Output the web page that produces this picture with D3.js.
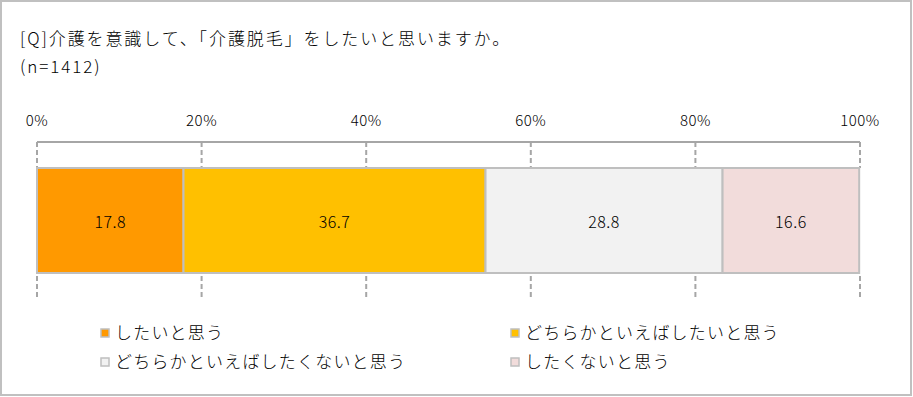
<!DOCTYPE html>
<html>
<head>
<meta charset="utf-8">
<script src="https://cdn.jsdelivr.net/npm/d3@7"></script>
<style>
  body { margin: 0; background: #fff; }
  svg { display: block; font-family: "Noto Sans CJK JP", sans-serif; }
</style>
</head>
<body>
<svg id="chart"></svg>
<script>
const categories = ['したいと思う', 'どちらかといえばしたいと思う', 'どちらかといえばしたくないと思う', 'したくないと思う']
const values = [17.8, 36.7, 28.8, 16.6]
const colors = ['#FF9900', '#FFC000', '#F2F2F2', '#F2DCDB']
const ticks = [0, 20, 40, 60, 80, 100]
const titleLines = ['[Q]介護を意識して、「介護脱毛」をしたいと思いますか。', '(n=1412)']

let width = 913
let height = 397
let svg = d3.select('#chart')
  .attr('width', width)
  .attr('height', height)

// outer frame
svg.append('rect')
  .attr('x', 1).attr('y', 1)
  .attr('width', width - 3).attr('height', height - 3)
  .attr('fill', '#fff')
  .attr('stroke', '#c0c0c0')
  .attr('stroke-width', 2)

svg.selectAll('.title')
  .data(titleLines)
  .enter()
  .append('text')
  .attr('class', 'title')
  .attr('x', 20)
  .attr('y', (d, i) => 45 + i * 28)
  .attr('font-size', 17)
  .attr('font-weight', 300)
  .attr('letter-spacing', 1.9)
  .attr('fill', '#000')
  .text(d => d)

let x = d3.scaleLinear().domain([0, 100]).range([37, 860])
let barTop = 168
let barBottom = 273

// top solid line + dashed grid
svg.append('line')
  .attr('x1', x(0)).attr('x2', x(100))
  .attr('y1', 142).attr('y2', 142)
  .attr('stroke', '#a6a6a6').attr('stroke-width', 2)

svg.selectAll('.grid-top')
  .data(ticks)
  .enter()
  .append('line')
  .attr('x1', d => x(d)).attr('x2', d => x(d))
  .attr('y1', 142).attr('y2', barTop)
  .attr('stroke', '#a6a6a6').attr('stroke-width', 2)
  .attr('stroke-dasharray', '5,3')

svg.selectAll('.grid-bottom')
  .data(ticks)
  .enter()
  .append('line')
  .attr('x1', d => x(d)).attr('x2', d => x(d))
  .attr('y1', 276).attr('y2', 300)
  .attr('stroke', '#a6a6a6').attr('stroke-width', 2)
  .attr('stroke-dasharray', '5,3')

svg.selectAll('.tick-label')
  .data(ticks)
  .enter()
  .append('text')
  .attr('x', d => x(d))
  .attr('y', 126)
  .attr('text-anchor', 'middle')
  .attr('font-size', 15)
  .attr('font-weight', 300)
  .attr('letter-spacing', 0.5)
  .attr('fill', '#000')
  .text(d => d + '%')

let stacked = values.map((v, i) => ({
  name: categories[i],
  value: v,
  start: d3.sum(values.slice(0, i)),
  color: colors[i]
}))

svg.selectAll('.bar')
  .data(stacked)
  .enter()
  .append('rect')
  .attr('x', d => x(d.start))
  .attr('y', barTop)
  .attr('width', d => x(d.start + d.value) - x(d.start))
  .attr('height', barBottom - barTop)
  .attr('fill', d => d.color)
  .attr('stroke', '#bfbfbf')
  .attr('stroke-width', 2)

svg.selectAll('.bar-label')
  .data(stacked)
  .enter()
  .append('text')
  .attr('x', d => x(d.start + d.value / 2))
  .attr('y', (barTop + barBottom) / 2 + 7)
  .attr('text-anchor', 'middle')
  .attr('font-size', 16)
  .attr('font-weight', 300)
  .attr('letter-spacing', 0.5)
  .attr('fill', '#000')
  .text(d => d.value.toFixed(1))

let legendPos = [[101, 333], [511, 333], [101, 362], [511, 362]]
let legend = svg.selectAll('.legend')
  .data(stacked)
  .enter()
  .append('g')
  .attr('transform', (d, i) => `translate(${legendPos[i][0]},${legendPos[i][1]})`)

legend.append('rect')
  .attr('x', 0).attr('y', -4)
  .attr('width', 8).attr('height', 8)
  .attr('fill', d => d.color)
  .attr('stroke', '#bfbfbf')
  .attr('stroke-width', 1.5)

legend.append('text')
  .attr('x', 14)
  .attr('y', 6)
  .attr('font-size', 17)
  .attr('font-weight', 300)
  .attr('letter-spacing', 1.2)
  .attr('fill', '#000')
  .text(d => d.name)
</script>
</body>
</html>
